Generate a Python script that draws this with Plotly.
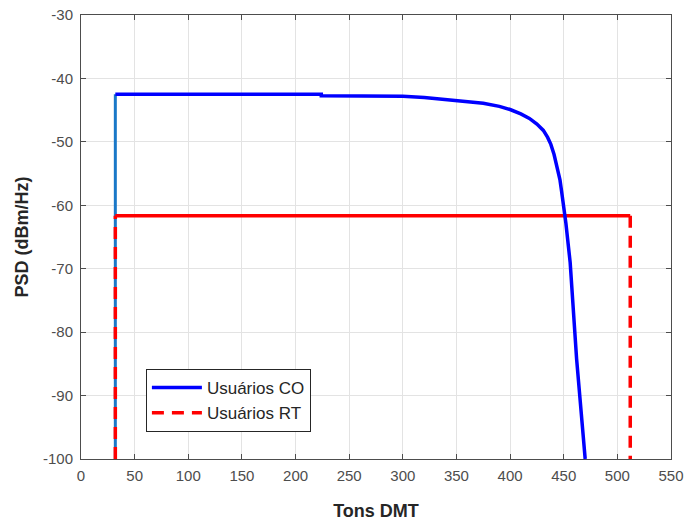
import plotly.graph_objects as go

# Usuários CO (blue curve)
co_x = [32, 224, 224, 300, 320, 340, 360, 375, 390, 400, 410, 418, 425, 431, 435, 438, 441, 444, 446.5, 448, 449.6, 452, 456, 462, 470]
co_y = [-42.5, -42.5, -42.75, -42.8, -43.0, -43.3, -43.6, -43.9, -44.4, -44.9, -45.6, -46.3, -47.2, -48.2, -49.3, -50.4, -52.0, -54.0, -56.0, -57.8, -59.7, -62.8, -69.0, -84.2, -100]
# vertical edge of CO band
co_edge_x = [32, 32]
co_edge_y = [-100, -42.5]

# Usuários RT (red)
rt_x = [32, 32, 512, 512]
rt_y = [-100, -61.65, -61.65, -100]

x_ticks = list(range(0, 551, 50))
x_labels = [str(v) for v in x_ticks]
y_ticks = list(range(-100, -29, 10))
y_labels = [str(v) for v in y_ticks]

FONT = "Liberation Sans, Arial, sans-serif"

fig = go.Figure()
fig.add_trace(go.Scatter(x=co_edge_x, y=co_edge_y, mode="lines",
                         line=dict(color="#1a78c8", width=3), showlegend=False, hoverinfo="skip"))
fig.add_trace(go.Scatter(x=rt_x[:2], y=rt_y[:2], mode="lines",
                         line=dict(color="#ff0000", width=3.5, dash="12px,8px"), showlegend=False))
fig.add_trace(go.Scatter(x=rt_x[2:], y=rt_y[2:], mode="lines",
                         line=dict(color="#ff0000", width=3.5, dash="12px,8px"), showlegend=False))
fig.add_trace(go.Scatter(x=rt_x[1:3], y=rt_y[1:3], mode="lines",
                         line=dict(color="#ff0000", width=3.5), showlegend=False))
fig.add_trace(go.Scatter(x=co_x, y=co_y, mode="lines", name="Usuários CO",
                         line=dict(color="#0000ff", width=3.5)))
fig.add_trace(go.Scatter(x=[None], y=[None], mode="lines", name="Usuários RT",
                         line=dict(color="#ff0000", width=3.5, dash="12px,8px")))

axis_common = dict(
    showgrid=True, gridcolor="#e3e3e3", gridwidth=1,
    showline=True, linecolor="#4d4d4d", linewidth=1, mirror="ticks",
    ticks="inside", ticklen=5, tickcolor="#4d4d4d",
    tickfont=dict(family=FONT, size=15, color="#4d4d4d"),
    zeroline=False, automargin=False,
)

fig.update_layout(
    width=685, height=523,
    margin=dict(l=81, r=14, t=15, b=64),
    paper_bgcolor="white", plot_bgcolor="white",
    xaxis=dict(range=[0, 550], tickvals=x_ticks, ticktext=x_labels, ticklabelstandoff=3,
               title=dict(text="<b>Tons DMT</b>", font=dict(family=FONT, size=18, color="#262626"), standoff=21),
               **axis_common),
    yaxis=dict(range=[-100, -30], tickvals=y_ticks, ticktext=y_labels, ticklabelstandoff=4,
               title=dict(text="<b>PSD (dBm/Hz)</b>", font=dict(family=FONT, size=18, color="#262626"), standoff=9),
               **axis_common),
    legend=dict(x=0.110, y=0.2027, xanchor="left", yanchor="top",
                bgcolor="white", bordercolor="#262626", borderwidth=1,
                font=dict(family=FONT, size=17, color="#262626"),
                tracegroupgap=0, itemwidth=50),
    showlegend=True,
)

fig.write_html("out.html", config={"displayModeBar": False},
               post_script="document.body.style.margin='0';")
